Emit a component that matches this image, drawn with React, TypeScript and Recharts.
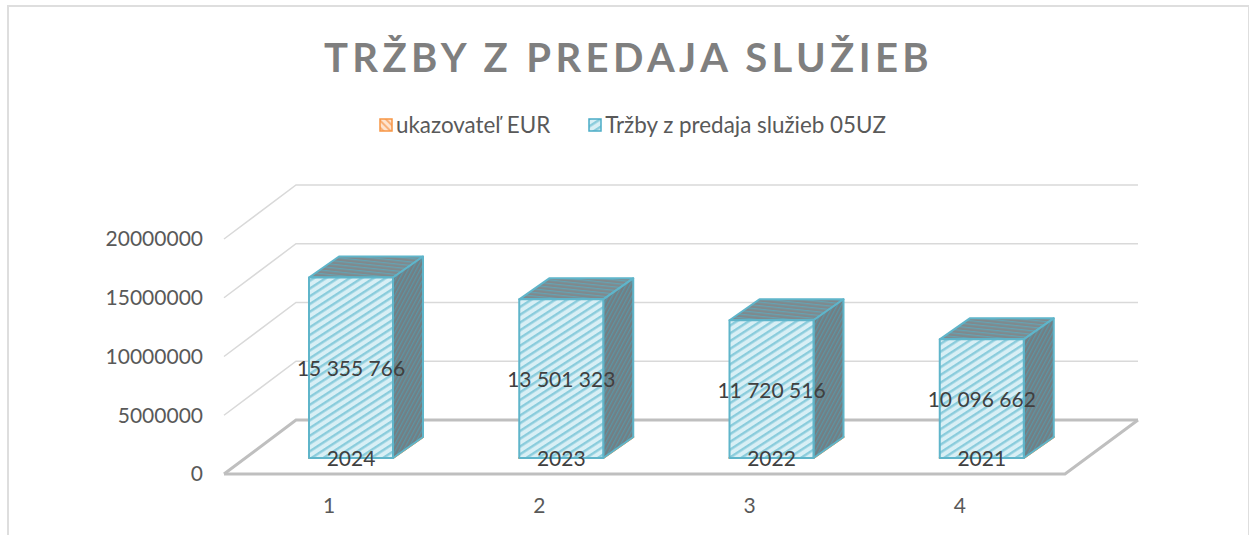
import { BarChart, Bar, XAxis, YAxis, CartesianGrid, Legend, LabelList } from "recharts";

const categories = ["1", "2", "3", "4"];
const years = [2024, 2023, 2022, 2021];
const revenue = [15355766, 13501323, 11720516, 10096662];
const revenueLabels = ["15 355 766", "13 501 323", "11 720 516", "10 096 662"];
const yTicks = [0, 5000000, 10000000, 15000000, 20000000];

const chartData = categories.map((name, i) => ({
  name,
  year: years[i],
  revenue: revenue[i],
}));

const DX = 30; // depth of the fake 3d
const DY = 21;
const SHIFT_X = 22;
const SHIFT_Y = 16;
const TEXT = "#595959";
const FONT = "Lato, sans-serif";

function Box3D(props: any) {
  const { x, y, width, height, frontFill, edge } = props;
  const left = x + SHIFT_X;
  const right = left + width;
  const top = y - SHIFT_Y;
  const bottom = top + height;
  return (
    <g stroke={edge} strokeWidth={2} strokeLinejoin="round">
      <polygon
        points={`${left},${top} ${left + DX},${top - DY} ${right + DX},${top - DY} ${right},${top}`}
        fill="url(#hatchTop)"
      />
      <polygon
        points={`${right},${top} ${right + DX},${top - DY} ${right + DX},${bottom - DY} ${right},${bottom}`}
        fill="url(#hatchSide)"
      />
      <rect x={left} y={top} width={width} height={height} fill={frontFill} />
    </g>
  );
}

function GridLine(props: any) {
  const { x1, x2, y1, index } = props;
  const floor = index === 0;
  const color = floor ? "#bfbfbf" : "#d9d9d9";
  const w = floor ? 3 : 1.5;
  const backY = y1 - 54;
  return (
    <g fill="none" stroke={color} strokeWidth={w}>
      {/* back wall line and left wall edge */}
      <polyline points={`${x1},${y1} ${x1 + 72},${backY} ${x2 + 73},${backY}`} />
      {floor && <polyline points={`${x1},${y1} ${x2},${y1} ${x2 + 73},${backY}`} />}
    </g>
  );
}

function BoxLabel(props: any) {
  const { x, y, width, height, value, index, labels } = props;
  return (
    <text
      x={x + SHIFT_X + width / 2}
      y={y - SHIFT_Y + height / 2}
      textAnchor="middle"
      dominantBaseline="central"
      fontFamily={FONT}
      fontSize={21}
      fill="#404040"
    >
      {labels ? labels[index] : value}
    </text>
  );
}

function LegendBox(props: any) {
  const { payload } = props;
  return (
    <div style={{ display: "flex", justifyContent: "center", gap: 38, fontFamily: FONT, fontSize: 22.4, color: TEXT }}>
      {payload.map((p: any) => (
        <span key={p.value} style={{ display: "flex", alignItems: "center", gap: 3 }}>
          <svg width={14} height={14}>
            <rect
              x={1}
              y={1}
              width={12}
              height={12}
              fill={p.dataKey === "year" ? "url(#hatchOrange)" : "url(#hatchBlue)"}
              stroke={p.dataKey === "year" ? "#f79646" : "#4bacc6"}
              strokeWidth={1.5}
            />
          </svg>
          {p.value}
        </span>
      ))}
    </div>
  );
}

export default function App() {
  return (
    <div style={{ position: "absolute", left: 0, top: 0, width: 1249, height: 535, overflow: "hidden", background: "#fff" }}>
      <div
        style={{
          position: "absolute",
          left: 7,
          top: 5,
          width: 1239,
          height: 560,
          border: "2px solid #dedede",
        }}
      />
      <div
        style={{
          position: "absolute",
          left: 8,
          right: 0,
          top: 34,
          textAlign: "center",
          fontFamily: FONT,
          fontWeight: 700,
          fontSize: 40,
          letterSpacing: 4.4,
          lineHeight: "46px",
          color: "#7f7f7f",
        }}
      >
        TRŽBY Z PREDAJA SLUŽIEB
      </div>
      <BarChart
        width={1249}
        height={535}
        data={chartData}
        margin={{ top: 212, right: 184, bottom: 31, left: 204 }}
        barCategoryGap="60%"
        style={{ position: "absolute", left: 0, top: 0 }}
      >
        <defs>
          <pattern id="hatchBlue" width="6.5" height="6.5" patternUnits="userSpaceOnUse" patternTransform="rotate(-33)">
            <rect width="6.5" height="6.5" fill="#d8eff5" />
            <rect width="6.5" height="2.4" fill="#8accdc" />
          </pattern>
          <pattern id="hatchOrange" width="5" height="5" patternUnits="userSpaceOnUse" patternTransform="rotate(45)">
            <rect width="5" height="5" fill="#fde4cf" />
            <rect width="5" height="2" fill="#f9b27a" />
          </pattern>
          <pattern id="hatchTop" width="3.5" height="3.5" patternUnits="userSpaceOnUse" patternTransform="rotate(6)">
            <rect width="3.5" height="3.5" fill="#80898d" />
            <rect width="3.5" height="1.2" fill="#64a3b3" />
          </pattern>
          <pattern id="hatchSide" width="3.5" height="3.5" patternUnits="userSpaceOnUse" patternTransform="rotate(-62)">
            <rect width="3.5" height="3.5" fill="#737e83" />
            <rect width="3.5" height="1.2" fill="#5a96a6" />
          </pattern>
        </defs>
        <CartesianGrid vertical={false} horizontal={(p: any) => <GridLine key={p.index} {...p} />} />
        <XAxis
          dataKey="name"
          axisLine={false}
          tickLine={false}
          tickMargin={18}
          tick={{ fontFamily: FONT, fontSize: 21, fill: TEXT }}
        />
        <YAxis
          domain={[0, 20000000]}
          ticks={yTicks}
          width={20}
          axisLine={false}
          tickLine={false}
          tickMargin={15}
          interval={0}
          tick={{ fontFamily: FONT, fontSize: 21, fill: TEXT }}
        />
        <Legend
          verticalAlign="top"
          itemSorter={null}
          content={<LegendBox />}
          wrapperStyle={{ top: 111, left: 12, width: 1241 }}
        />
        <Bar
          dataKey="year"
          name="ukazovateľ EUR"
          stackId="a"
          barSize={84}
          fill="#f79646"
          isAnimationActive={false}
          shape={(p: any) => <Box3D {...p} frontFill="url(#hatchOrange)" edge="#f79646" />}
        >
          <LabelList dataKey="year" content={(p: any) => <BoxLabel {...p} />} />
        </Bar>
        <Bar
          dataKey="revenue"
          name="Tržby z predaja služieb 05UZ"
          stackId="a"
          barSize={84}
          fill="#4bacc6"
          isAnimationActive={false}
          shape={(p: any) => <Box3D {...p} frontFill="url(#hatchBlue)" edge="#5fb5ca" />}
        >
          <LabelList dataKey="revenue" content={(p: any) => <BoxLabel {...p} labels={revenueLabels} />} />
        </Bar>
      </BarChart>
    </div>
  );
}
